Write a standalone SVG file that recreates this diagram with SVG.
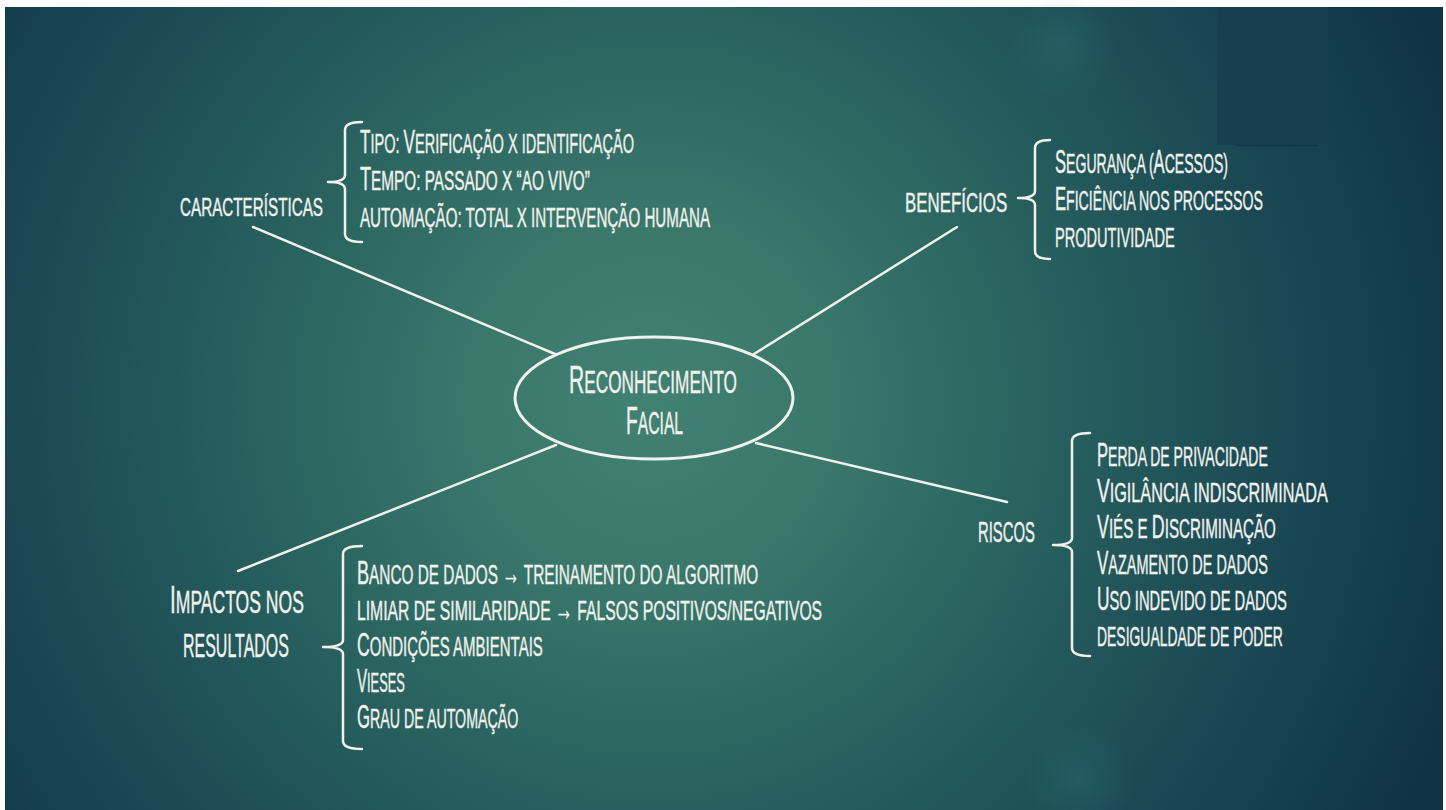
<svg xmlns="http://www.w3.org/2000/svg" width="1446" height="810" viewBox="0 0 1446 810">
<defs>
  <radialGradient id="bg" gradientUnits="userSpaceOnUse" cx="650" cy="400" r="860">
    <stop offset="0" stop-color="#418172"/>
    <stop offset="0.2" stop-color="#3a786c"/>
    <stop offset="0.45" stop-color="#29625f"/>
    <stop offset="0.72" stop-color="#1b4a55"/>
    <stop offset="1" stop-color="#0f3445"/>
  </radialGradient>
  <radialGradient id="spot">
    <stop offset="0" stop-color="#3f8a92" stop-opacity="0.2"/>
    <stop offset="1" stop-color="#3f8a92" stop-opacity="0"/>
  </radialGradient>
</defs>
<style>
  .t{font-family:"Liberation Sans","Noto Sans",sans-serif;text-transform:uppercase;fill:#f1f1ec;stroke:#f1f1ec;stroke-width:0.45;font-size:28px;}
  .C{font-size:33px;}
  .arr{font-weight:bold;font-size:32px;}
  .l{stroke:#f1f1ec;stroke-width:2.5;fill:none;stroke-linecap:round;stroke-linejoin:round;}
</style>
<rect width="1446" height="810" fill="#ffffff"/>
<rect x="5" y="7" width="1438" height="803" fill="url(#bg)"/>
<circle cx="1062" cy="45" r="55" fill="url(#spot)"/>
<circle cx="1080" cy="780" r="55" fill="url(#spot)"/>
<rect x="1217" y="7" width="111" height="138" fill="#183f4e"/>
<line x1="1236" y1="145.5" x2="1318" y2="145.5" stroke="#10303d" stroke-opacity="0.6" stroke-width="1.5"/>

<g id="connectors">
  <path class="l" d="M253,227 L555,354"/>
  <path class="l" d="M754,354 L957,227"/>
  <path class="l" d="M238,571 L556,445"/>
  <path class="l" d="M756,443 L1007,502"/>
</g>

<g id="center">
  <ellipse cx="654" cy="398" rx="139" ry="61" fill="none" stroke="#f1f1ec" stroke-width="3"/>
  <text class="t" transform="translate(569,393) scale(0.554,1)" style="font-size:31px" textLength="303" lengthAdjust="spacingAndGlyphs"><tspan style="font-size:38px">R</tspan>econhecimento</text>
  <text class="t" transform="translate(626,434) scale(0.505,1)" style="font-size:31px" textLength="113" lengthAdjust="spacingAndGlyphs"><tspan style="font-size:38px">F</tspan>acial</text>
</g>

<g id="caracteristicas">
  <text class="t" transform="translate(180,216) scale(0.586,1)" style="font-size:26px" textLength="244" lengthAdjust="spacingAndGlyphs">características</text>
  <path class="l" d="M362,122 Q345,122 345,130 L345,175 Q345,182 328,182 Q345,182 345,189 L345,234 Q345,242 362,242"/>
  <text class="t" transform="translate(360,153) scale(0.514,1)" textLength="533" lengthAdjust="spacingAndGlyphs"><tspan class="C">T</tspan>ipo: <tspan class="C">V</tspan>erificação x identificação</text>
  <text class="t" transform="translate(360,190) scale(0.546,1)" textLength="421" lengthAdjust="spacingAndGlyphs"><tspan class="C">T</tspan>empo: passado x “ao vivo”</text>
  <text class="t" transform="translate(360,227) scale(0.537,1)" textLength="652" lengthAdjust="spacingAndGlyphs">automação: total x intervenção humana</text>
</g>

<g id="beneficios">
  <text class="t" transform="translate(905,212) scale(0.601,1)" textLength="170" lengthAdjust="spacingAndGlyphs">benefícios</text>
  <path class="l" d="M1050,140 Q1035,140 1035,148 L1035,191 Q1035,198 1018,198 Q1035,198 1035,205 L1035,251 Q1035,259 1050,259"/>
  <text class="t" transform="translate(1055,173) scale(0.5,1)" textLength="346" lengthAdjust="spacingAndGlyphs"><tspan class="C">S</tspan>egurança (<tspan class="C">A</tspan>cessos)</text>
  <text class="t" transform="translate(1055,210) scale(0.502,1)" textLength="414" lengthAdjust="spacingAndGlyphs"><tspan class="C">E</tspan>ficiência nos processos</text>
  <text class="t" transform="translate(1055,247) scale(0.521,1)" textLength="230" lengthAdjust="spacingAndGlyphs">produtividade</text>
</g>

<g id="riscos">
  <text class="t" transform="translate(978,542) scale(0.513,1)" style="font-size:29px" textLength="111" lengthAdjust="spacingAndGlyphs">riscos</text>
  <path class="l" d="M1090,433 Q1072,433 1072,441 L1072,538 Q1072,545 1053,545 Q1072,545 1072,552 L1072,648 Q1072,656 1090,656"/>
  <text class="t" transform="translate(1097,466) scale(0.513,1)" textLength="333" lengthAdjust="spacingAndGlyphs"><tspan class="C">P</tspan>erda de privacidade</text>
  <text class="t" transform="translate(1097,502) scale(0.574,1)" textLength="402" lengthAdjust="spacingAndGlyphs"><tspan class="C">V</tspan>igilância indiscriminada</text>
  <text class="t" transform="translate(1097,538) scale(0.542,1)" textLength="330" lengthAdjust="spacingAndGlyphs"><tspan class="C">V</tspan>iés e <tspan class="C">D</tspan>iscriminação</text>
  <text class="t" transform="translate(1097,574) scale(0.516,1)" textLength="331" lengthAdjust="spacingAndGlyphs"><tspan class="C">V</tspan>azamento de dados</text>
  <text class="t" transform="translate(1097,610) scale(0.526,1)" textLength="361" lengthAdjust="spacingAndGlyphs"><tspan class="C">U</tspan>so indevido de dados</text>
  <text class="t" transform="translate(1097,646) scale(0.498,1)" textLength="373" lengthAdjust="spacingAndGlyphs">desigualdade de poder</text>
</g>

<g id="impactos">
  <text class="t" transform="translate(170,613) scale(0.542,1)" style="font-size:32px" textLength="247" lengthAdjust="spacingAndGlyphs"><tspan style="font-size:38px">I</tspan>mpactos nos</text>
  <text class="t" transform="translate(183,657) scale(0.475,1)" style="font-size:33px" textLength="223" lengthAdjust="spacingAndGlyphs">resultados</text>
  <path class="l" d="M362,546 Q343,546 343,554 L343,640 Q343,647 323,647 Q343,647 343,654 L343,741 Q343,749 362,749"/>
  <text class="t" transform="translate(357,584) scale(0.548,1)" textLength="732" lengthAdjust="spacingAndGlyphs"><tspan class="C">B</tspan>anco de dados <tspan class="arr">→</tspan> treinamento do algoritmo</text>
  <text class="t" transform="translate(357,620) scale(0.559,1)" textLength="832" lengthAdjust="spacingAndGlyphs">limiar de similaridade <tspan class="arr">→</tspan> falsos positivos/negativos</text>
  <text class="t" transform="translate(357,656) scale(0.531,1)" textLength="350" lengthAdjust="spacingAndGlyphs"><tspan class="C">C</tspan>ondições ambientais</text>
  <text class="t" transform="translate(357,692) scale(0.459,1)" textLength="104" lengthAdjust="spacingAndGlyphs"><tspan class="C">V</tspan>ieses</text>
  <text class="t" transform="translate(357,728) scale(0.504,1)" textLength="320" lengthAdjust="spacingAndGlyphs"><tspan class="C">G</tspan>rau de automação</text>
</g>
</svg>
